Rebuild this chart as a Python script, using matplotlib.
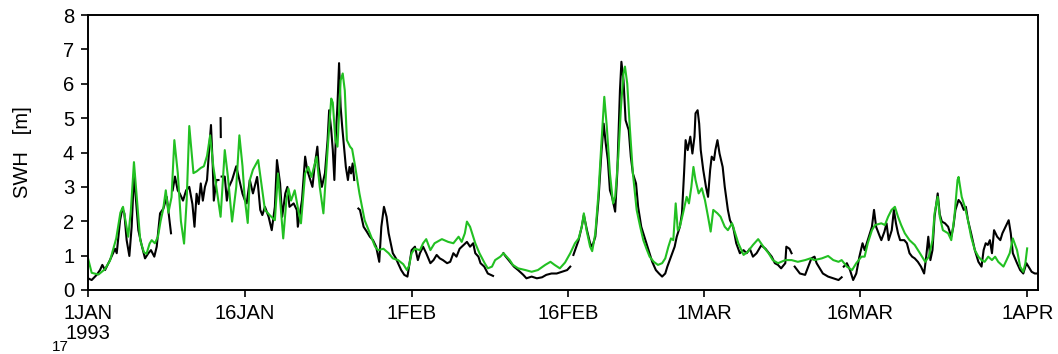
import numpy as np
import matplotlib
matplotlib.use('Agg')
import matplotlib.pyplot as plt

plt.rcParams['font.family'] = ['Liberation Sans', 'DejaVu Sans']

# Model SWH (green), day offset from 1 Jan 1993 and value [m]
model_day = [0.0, 0.35, 1.0, 1.6, 2.1, 2.7, 3.1, 3.35, 3.6, 3.85, 4.1, 4.4, 4.7, 5.0, 5.35, 5.6,
             5.9, 6.1, 6.4, 6.7, 6.95, 7.2, 7.45, 7.7, 8.0, 8.27, 8.6, 8.9, 9.2, 9.45, 9.7, 10.1,
             10.4, 10.8, 11.1, 11.4, 11.7, 12.0, 12.2, 12.7, 13.1, 13.4, 13.8, 14.2, 14.5, 14.8,
             15.0, 15.3, 15.5, 15.8, 16.3, 16.6, 16.95, 17.4, 17.9, 18.2, 18.7, 19.0, 19.2, 19.45,
             19.8, 20.2, 20.4, 20.8, 21.1, 21.4, 21.9, 22.2, 22.55, 22.95, 23.3, 23.45, 23.7, 23.9,
             24.2, 24.4, 24.6, 24.8, 25.1, 25.3, 25.6, 26.0, 26.5, 27.0, 27.5, 27.8, 28.3, 28.8,
             29.2, 29.7, 30.2, 30.55, 30.75, 31.0, 31.3, 31.8, 32.1, 32.4, 32.8, 33.2, 33.9, 34.5,
             35.0, 35.5, 35.8, 36.1, 36.3, 36.6, 37.1, 37.5, 38.0, 38.3, 38.7, 39.0, 39.5, 39.8,
             40.1, 40.4, 40.7, 41.2, 41.9, 42.5, 43.1, 43.8, 44.3, 44.7, 45.2, 45.7, 46.2, 46.65,
             47.0, 47.3, 47.5, 47.76, 48.1, 48.3, 48.6, 48.9, 49.2, 49.46, 49.7, 50.0, 50.3, 50.5,
             50.8, 51.06, 51.3, 51.44, 51.66, 51.9, 52.2, 52.56, 52.9, 53.2, 53.5, 53.8, 54.2, 54.6,
             55.0, 55.3, 55.6, 55.85, 56.07, 56.3, 56.5, 56.7, 57.0, 57.35, 57.57, 57.8, 58.0, 58.2,
             58.5, 58.8, 59.1, 59.4, 59.65, 59.9, 60.3, 60.6, 61.0, 61.3, 61.7, 62.0, 62.3, 62.8,
             63.2, 63.7, 64.2, 64.7, 65.2, 65.6, 66.1, 66.8, 67.4, 68.0, 68.7, 69.2, 69.6, 70.3,
             70.9, 71.4, 71.9, 72.2, 72.7, 73.2, 73.6, 74.1, 74.4, 74.7, 75.1, 75.4, 76.0, 76.34,
             76.65, 76.98, 77.3, 77.6, 77.9, 78.25, 78.7, 79.2, 79.7, 80.2, 80.55, 80.9, 81.1, 81.4,
             81.6, 81.9, 82.4, 82.7, 83.0, 83.3, 83.4, 83.7, 84.0, 84.3, 84.6, 84.96, 85.3, 85.6,
             85.9, 86.24, 86.6, 86.9, 87.2, 87.7, 88.0, 88.3, 88.6, 89.0, 89.3, 89.6, 89.8, 89.97]
model_swh = [0.92, 0.50, 0.45, 0.60, 0.85, 1.50, 2.25, 2.42, 2.0, 1.55, 2.3, 3.72, 2.6, 1.45, 1.10, 1.05,
             1.35, 1.45, 1.36, 1.55, 2.0, 2.35, 2.9, 2.25, 2.7, 4.36, 3.4, 2.0, 1.35, 2.6, 4.77, 3.4,
             3.45, 3.55, 3.6, 3.9, 4.5, 3.6, 3.2, 2.13, 4.07, 3.3, 1.99, 3.0, 4.5, 3.6,
             2.7, 1.95, 3.2, 3.5, 3.78, 3.1, 2.33, 2.18, 2.03, 3.39, 1.5, 2.6, 2.95, 2.6,
             2.9, 2.23, 1.94, 3.39, 3.58, 3.29, 3.88, 3.0, 2.23, 4.07, 5.57, 5.45, 4.36, 4.17,
             6.1, 6.3, 5.8, 4.36, 4.17, 4.1, 3.58, 2.81, 2.03, 1.65, 1.26, 1.16, 1.2, 1.07,
             0.92, 0.87, 0.75, 0.58, 0.7, 1.07, 1.2, 1.16, 1.36, 1.48, 1.16, 1.36, 1.48, 1.4,
             1.36, 1.55, 1.4, 1.65, 1.99, 1.84, 1.36, 1.07, 0.78, 0.63, 0.68, 0.87, 0.97, 1.07,
             0.97, 0.87, 0.73, 0.63, 0.58, 0.53, 0.58, 0.73, 0.82, 0.73, 0.63, 0.80, 1.07, 1.36,
             1.5, 1.84, 2.23, 1.74, 1.26, 1.13, 1.65, 2.81, 4.36, 5.62, 4.75, 3.39, 2.52, 2.71,
             3.88, 5.33, 6.3, 6.5, 6.0, 4.75, 3.39, 2.33, 1.84, 1.45, 1.2, 0.97, 0.82, 0.73,
             0.78, 0.92, 1.26, 1.5, 1.45, 2.52, 1.74, 1.84, 2.23, 2.71, 2.52, 3.0, 3.58, 3.2,
             2.81, 2.96, 2.62, 2.13, 1.7, 2.33, 2.23, 2.13, 1.84, 1.74, 1.94, 1.65, 1.36, 1.02,
             1.11, 1.31, 1.48, 1.26, 1.07, 0.87, 0.78, 0.87, 0.87, 0.82, 0.87, 0.92, 0.87, 0.92,
             0.99, 0.87, 0.82, 0.87, 0.68, 0.58, 0.78, 0.97, 0.97, 1.36, 1.74, 1.89, 1.94, 1.89,
             2.13, 2.33, 2.42, 2.13, 1.89, 1.65, 1.45, 1.31, 1.07, 0.82, 0.97, 1.45, 2.23, 2.71,
             2.13, 1.74, 1.65, 1.45, 2.13, 3.2, 3.29, 2.71, 2.42, 2.03, 1.55, 1.16, 0.97, 0.87,
             0.82, 0.97, 0.87, 0.97, 0.82, 0.68, 0.87, 1.07, 1.5, 1.16, 0.68, 0.53, 0.78, 1.21]

# Observed SWH (black), NaN marks gaps in the record
nan = np.nan
obs_day = [0.0, 0.35, 0.83, 1.15, 1.37, 1.63, 2.1, 2.59, 2.75, 3.07, 3.29, 3.48, 3.7, 3.96, 4.18, 4.41,
           4.57, 4.82, 5.14, 5.46, 5.78, 6.03, 6.35, 6.58, 6.9, 7.22, 7.54, 7.76, 7.95, 8.0, 8.11, 8.33,
           8.59, 8.8, 9.1, 9.4, 9.7, 10.0, 10.2, 10.4, 10.6, 10.8, 11.0, 11.2, 11.4, 11.6, 11.78, 11.95,
           12.05, 12.3, 12.5, 12.6, 12.7, 12.72, 12.75, 12.8, 13.1, 13.3, 13.5, 13.8, 14.2, 14.5, 14.8,
           15.04, 15.2, 15.5, 15.8, 16.2, 16.3, 16.5, 16.7, 16.95, 17.3, 17.6, 17.9, 18.1, 18.4, 18.6,
           18.9, 19.1, 19.3, 19.7, 20.0, 20.1, 20.5, 20.8, 21.0, 21.3, 21.5, 21.7, 21.97, 22.1, 22.4,
           22.7, 22.95, 23.1, 23.3, 23.45, 23.6, 23.75, 23.9, 24.05, 24.2, 24.35, 24.5, 24.7, 24.9,
           25.05, 25.2, 25.35, 25.5, 25.7, 25.9, 26.05, 26.4, 26.7, 27.0, 27.3, 27.6, 27.9, 28.1, 28.35,
           28.6, 28.8, 29.2, 29.5, 29.7, 30.0, 30.3, 30.6, 31.0, 31.32, 31.6, 31.8, 32.1, 32.4, 32.8,
           33.1, 33.4, 33.7, 34.0, 34.4, 34.7, 35.0, 35.3, 35.6, 35.95, 36.3, 36.6, 36.9, 37.1, 37.4,
           37.6, 37.96, 38.3, 38.8, 39.2, 39.8, 39.95, 40.3, 40.8, 41.2, 41.7, 42.0, 42.5, 43.0, 43.5,
           43.9, 44.4, 44.9, 45.4, 45.9, 46.2, 46.35, 46.5, 47.0, 47.3, 47.5, 47.8, 48.1, 48.3, 48.6,
           48.9, 49.2, 49.4, 49.6, 49.8, 50.0, 50.2, 50.5, 50.7, 50.96, 51.1, 51.3, 51.5, 51.8, 52.0,
           52.2, 52.5, 52.7, 53.0, 53.4, 53.7, 54.05, 54.4, 54.7, 55.0, 55.3, 55.5, 55.85, 56.2, 56.4,
           56.7, 56.9, 57.1, 57.25, 57.45, 57.7, 57.9, 58.1, 58.2, 58.4, 58.55, 58.7, 58.94, 59.2, 59.4,
           59.6, 59.75, 59.97, 60.1, 60.3, 60.5, 60.8, 61.0, 61.3, 61.5, 61.8, 62.1, 62.45, 62.8, 63.1,
           63.4, 63.7, 64.05, 64.5, 64.9, 65.5, 65.8, 66.1, 66.4, 66.8, 66.9, 67.2, 67.4, 67.55, 67.7,
           68.2, 68.7, 69.0, 69.3, 69.6, 69.8, 70.1, 70.4, 70.9, 71.4, 71.9, 72.2, 72.3, 72.4, 72.7,
           73.0, 73.3, 73.6, 73.9, 74.2, 74.4, 74.7, 75.1, 75.3, 75.5, 75.8, 76.0, 76.3, 76.5, 76.7,
           77.0, 77.2, 77.4, 77.6, 77.8, 78.2, 78.45, 78.7, 78.95, 79.2, 79.5, 79.8, 80.1, 80.3, 80.5,
           80.7, 80.9, 81.1, 81.4, 81.6, 81.8, 82.1, 82.4, 82.7, 82.9, 83.1, 83.4, 83.65, 83.9, 84.1,
           84.3, 84.6, 84.96, 85.3, 85.6, 85.8, 86.0, 86.2, 86.4, 86.6, 86.8, 87.1, 87.4, 87.6, 87.9,
           88.2, 88.4, 88.6, 89.0, 89.3, 89.6, 89.9, 90.1, 90.4, 90.7, 90.96]
obs_swh = [0.34, 0.29, 0.44, 0.58, 0.73, 0.58, 0.87, 1.2, 1.07, 2.03, 2.37, 2.23, 1.45, 0.99, 1.84, 3.39,
           2.71, 1.74, 1.3, 0.92, 1.07, 1.16, 0.97, 1.26, 2.23, 2.37, 2.71, 2.13, 1.65, nan, 2.9, 3.3,
           2.9, 2.8, 2.6, 2.9, 3.0, 2.5, 1.84, 2.8, 2.5, 3.1, 2.6, 3.0, 3.2, 4.07, 4.8, 3.6,
           2.6, 3.2, 3.2, nan, 5.0, 4.45, nan, 3.3, 3.3, 2.6, 3.0, 3.2, 3.6, 3.2, 2.8,
           2.6, 2.52, 3.2, 2.81, 3.29, 3.0, 2.33, 2.18, 2.42, 2.13, 1.74, 2.42, 3.78, 3.1, 2.13,
           2.81, 3.0, 2.42, 2.52, 2.33, 1.84, 2.62, 3.88, 3.49, 3.2, 3.0, 3.58, 4.17, 3.58, 3.0,
           3.4, 4.36, 5.23, 4.65, 4.07, 3.2, 4.55, 5.4, 6.6, 5.33, 4.75, 4.26, 3.58, 3.2,
           3.58, 3.39, 3.68, 3.2, nan, 2.37, 2.33, 1.84, 1.7, 1.55, 1.45, 1.26, 0.82, 1.84, 2.42,
           2.13, 1.65, 1.07, 0.92, 0.78, 0.58, 0.44, 0.39, 1.16, 1.26, 0.87, 1.07, 1.26, 1.07, 0.78,
           0.87, 1.02, 0.92, 0.87, 0.78, 0.82, 1.07, 0.97, 1.2, 1.3, 1.4, 1.26, 1.36, 1.07, 0.97,
           0.78, 0.68, 0.48, 0.41, nan, 1.07, 1.0, 0.87, 0.68, 0.58, 0.44, 0.34, 0.39, 0.34, 0.37,
           0.44, 0.48, 0.48, 0.53, 0.58, 0.68, nan, 1.02, 1.45, 1.84, 2.18, 1.74, 1.36, 1.26, 1.55,
           2.62, 4.07, 4.84, 4.26, 3.78, 2.9, 2.71, 2.28, 3.39, 5.81, 6.64, 6.1, 4.94, 4.65, 3.88,
           3.39, 3.1, 2.42, 1.84, 1.45, 1.16, 0.82, 0.58, 0.48, 0.39, 0.48, 0.68, 0.97, 1.26, 1.55,
           1.84, 2.23, 3.39, 4.36, 4.07, 4.46, 3.97, 4.46, 5.14, 5.23, 4.84, 4.07, 3.49, 3.0, 2.71,
           3.49, 3.88, 3.78, 4.07, 4.36, 3.97, 3.58, 3.0, 2.33, 2.03, 1.84, 1.36, 1.07, 1.16, 1.07,
           1.2, 0.97, 1.07, 1.3, 1.2, 0.97, 0.78, 0.73, 0.63, 0.78, 1.26, 1.2, 1.07, nan, 0.68,
           0.48, 0.44, 0.68, 0.92, 0.97, 0.78, 0.63, 0.48, 0.39, 0.34, 0.29, 0.37, nan, 0.68, 0.78,
           0.58, 0.29, 0.48, 0.97, 1.36, 1.16, 1.45, 1.84, 2.33, 1.84, 1.6, 1.45, 1.7, 1.94, 1.45,
           1.74, 2.33, 1.94, 1.65, 1.45, 1.45, 1.36, 1.07, 0.97, 0.92, 0.82, 0.68, 0.48, 0.97, 1.55,
           0.87, 1.16, 2.13, 2.81, 2.2, 1.99, 1.94, 1.84, 1.55, 1.84, 2.33, 2.62, 2.52, 2.33, 2.42,
           2.03, 1.65, 1.16, 0.82, 0.68, 1.16, 1.36, 1.31, 1.45, 1.07, 1.74, 1.55, 1.45, 1.65, 1.84,
           2.03, 1.65, 1.07, 0.78, 0.58, 0.48, 0.78, 0.68, 0.53, 0.48, 0.48]

tick_days = [0, 15, 31, 46, 59, 74, 90]
tick_labels = ['1JAN\n1993', '16JAN', '1FEB', '16FEB', '1MAR', '16MAR', '1APR']

start = np.datetime64('1993-01-01T00:00')


def to_time(days):
    return start + (np.array(days) * 1440).round().astype('timedelta64[m]')


fig = plt.figure(figsize=(10.58, 3.54), dpi=100)
ax = fig.add_axes([0.0832, 0.1808, 0.8978, 0.7768])

ax.plot(to_time(obs_day), obs_swh, color='black', linewidth=1.5)
ax.plot(to_time(model_day), model_swh, color='#22c022', linewidth=1.5)

ax.set_xlim(to_time([0])[0], to_time([91])[0])
ax.set_ylim(0, 8)
ax.set_yticks(range(0, 9))
ax.set_xticks(to_time(tick_days))
ax.set_xticklabels(tick_labels, linespacing=1.1)
ax.tick_params(direction='out', length=5, width=1.2, labelsize=14.5, pad=5)
ax.tick_params(axis='y', pad=5)
for s in ax.spines.values():
    s.set_linewidth(1.4)
ax.set_ylabel('SWH   [m]', fontsize=14.5, labelpad=22)

# partial panel label left at the bottom edge
fig.text(0.057, 0.0, '17', fontsize=11, ha='center', va='bottom')

fig.savefig('out.png', dpi=100)
